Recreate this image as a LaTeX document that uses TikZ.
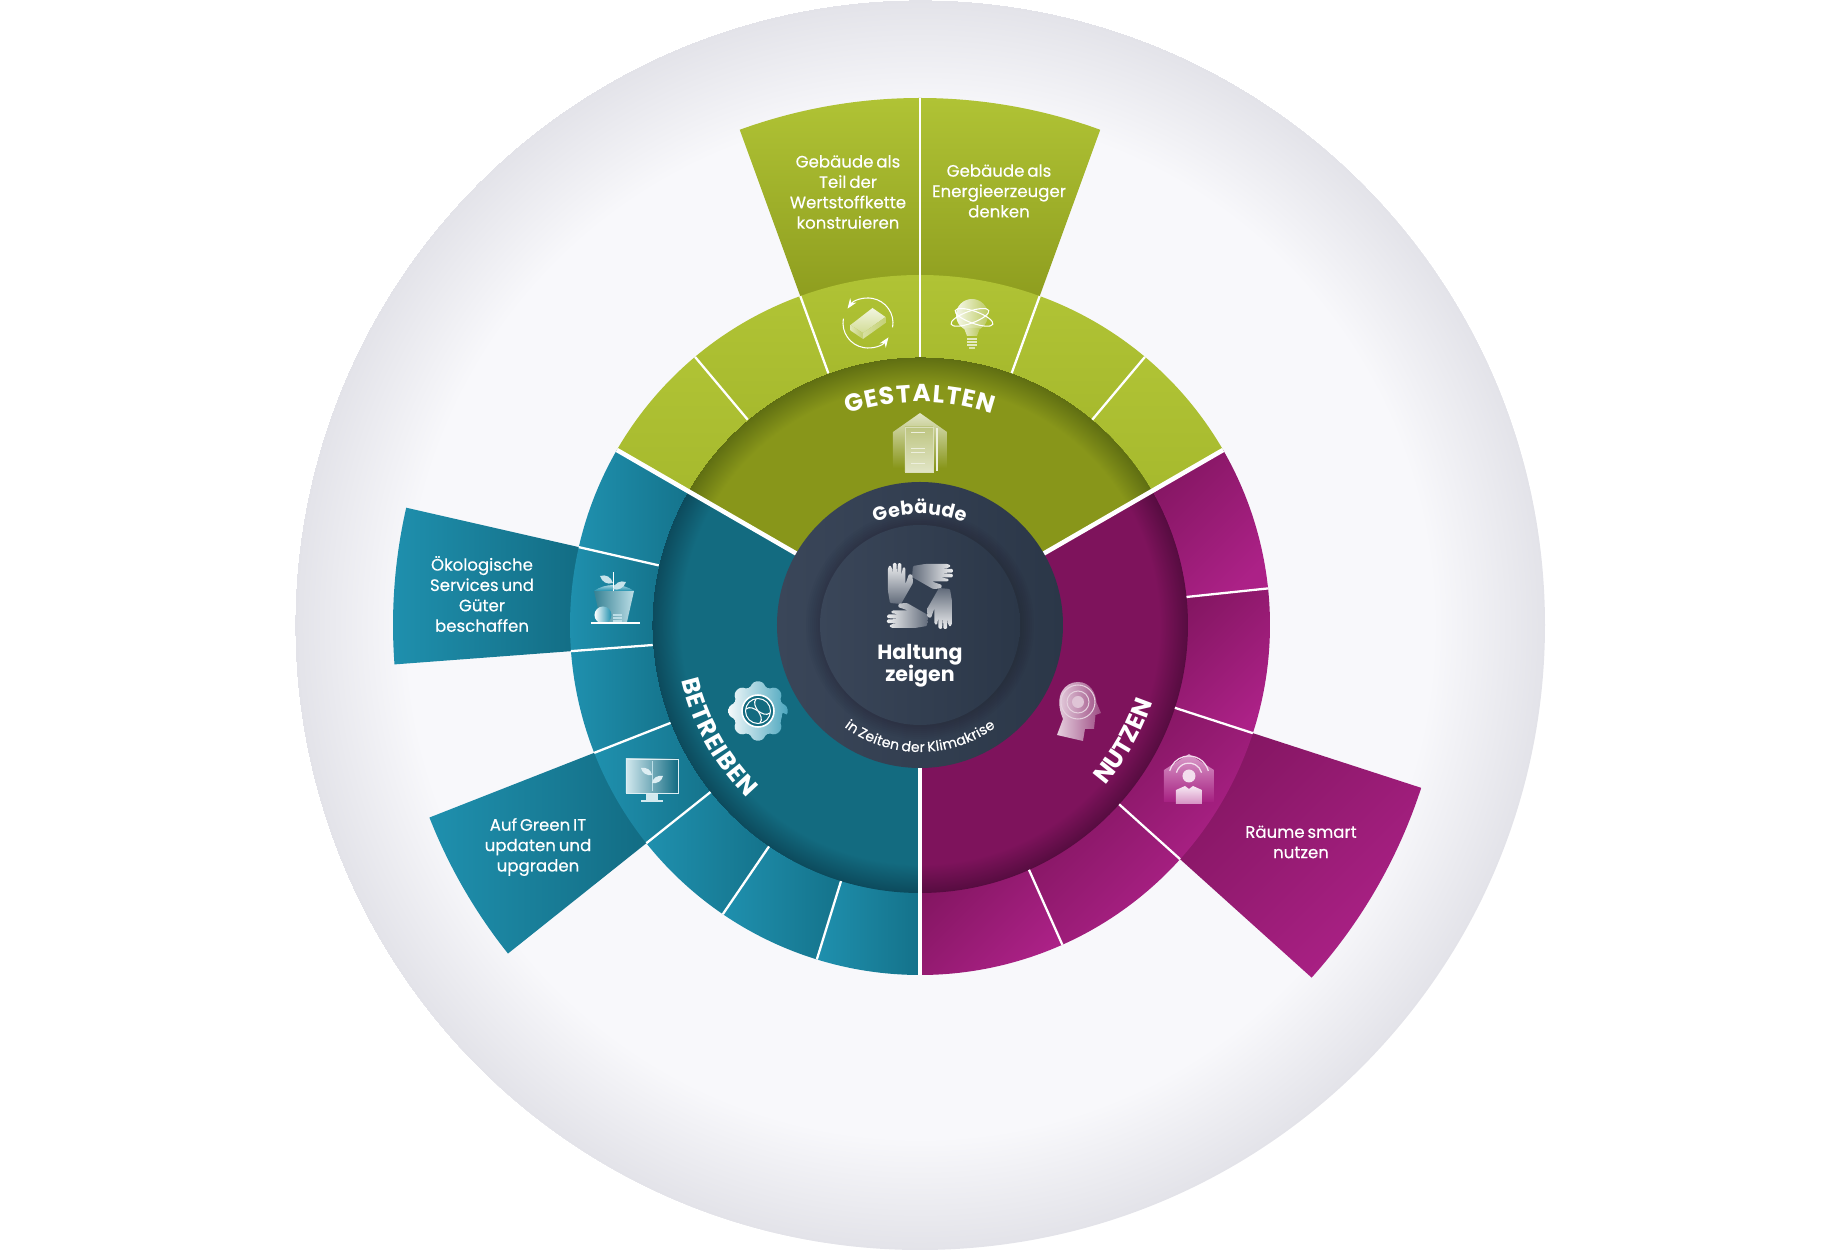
\documentclass[tikz,border=0pt]{standalone}
\usepackage{fontspec}
\setmainfont{Poppins}
\newfontfamily\bodyface{Poppins}[FakeBold=0.35, WordSpace=0.65]
\usepackage{xcolor}
\usetikzlibrary{arrows.meta,decorations.text}

\definecolor{greenlight}{HTML}{B0C335}
\definecolor{greenmid}{HTML}{A6B92D}
\definecolor{greendark}{HTML}{8D9C1E}
\definecolor{greendisc}{HTML}{88961A}
\definecolor{greenrim}{HTML}{5F6E12}
\definecolor{teallight}{HTML}{1F90AE}
\definecolor{tealseg}{HTML}{14728A}
\definecolor{tealdark}{HTML}{126B82}
\definecolor{tealdisc}{HTML}{136B80}
\definecolor{tealrim}{HTML}{0C4A5C}
\definecolor{purplelight}{HTML}{AC2187}
\definecolor{purpledark}{HTML}{841662}
\definecolor{purpledisc}{HTML}{7E135C}
\definecolor{purplerim}{HTML}{560C40}
\definecolor{slatelight}{HTML}{3A4659}
\definecolor{slatedark}{HTML}{2B3748}
\definecolor{haze}{HTML}{F8F8FB}
\definecolor{hazerim}{HTML}{E3E3E9}

\pgfdeclareradialshading{rimback}{\pgfpoint{0bp}{0bp}}{color(0bp)=(haze); color(20.5bp)=(haze); color(25bp)=(hazerim)}
\pgfdeclareradialshading{rimgreen}{\pgfpoint{0bp}{0bp}}{color(0bp)=(greendisc); color(22.3bp)=(greendisc); color(25bp)=(greenrim)}
\pgfdeclareradialshading{rimteal}{\pgfpoint{0bp}{0bp}}{color(0bp)=(tealdisc); color(22.3bp)=(tealdisc); color(25bp)=(tealrim)}
\pgfdeclareradialshading{rimpurple}{\pgfpoint{0bp}{0bp}}{color(0bp)=(purpledisc); color(22.3bp)=(purpledisc); color(25bp)=(purplerim)}

\newcommand{\ringseg}[4]{(#1:#3) arc (#1:#2:#3) -- (#2:#4) arc (#2:#1:#4) -- cycle}
\newcommand{\bodyfont}{\bodyface\fontsize{9.45}{11.6}\selectfont}
\newcommand{\ringfont}{\fontsize{14}{15}\selectfont\bfseries\color{white}}

\tikzset{
  greenext/.style={top color=greenlight, bottom color=greendark},
  greenseg/.style={top color=greenlight, bottom color=greenmid},
  tealext/.style={top color=teallight, bottom color=tealdark, shading angle=90},
  tealring/.style={top color=teallight, bottom color=tealseg, shading angle=90},
  purpleext/.style={top color=purpledark, bottom color=purplelight, shading angle=45},
  thinline/.style={white, line width=1.3pt},
  mainline/.style={white, line width=2.6pt},
  bodytext/.style={text=white, align=center, font=\bodyfont, inner sep=0pt},
  curvetext/.style={decorate, decoration={text along path, text align={fit to path}, text={#1}}},
  iconline/.style={white, line width=0.6pt}
}

\begin{document}
\begin{tikzpicture}[x=0.02cm, y=0.02cm, >=Stealth]
    \useasboundingbox (-920,-625) rectangle (920,625);
    \shade[shading=rimback] (0,0) circle (625);

    % long sectors
    \shade[greenext] \ringseg{70}{90}{340}{527};
    \shade[greenext] \ringseg{90}{110}{340}{527};
    \shade[tealext] \ringseg{167.14}{184.29}{340}{527};
    \shade[tealext] \ringseg{201.43}{218.57}{340}{527};
    \shade[purpleext] \ringseg{-42}{-18}{340}{527};

    % outer ring
    \foreach \a in {30,50,...,130} {
        \pgfmathsetmacro\b{\a+20}
        \shade[greenseg] \ringseg{\a}{\b}{260}{350};
    }
    \foreach \i in {0,...,6} {
        \pgfmathsetmacro\a{150+\i*120/7}
        \pgfmathsetmacro\b{\a+120/7}
        \shade[tealring] \ringseg{\a}{\b}{260}{350};
    }
    \foreach \i in {0,...,4} {
        \pgfmathsetmacro\a{-90+\i*24}
        \pgfmathsetmacro\b{\a+24}
        \shade[purpleext] \ringseg{\a}{\b}{260}{350};
    }

    % discs of the three fields
    \begin{scope}
        \clip (0,0) -- (30:268) arc (30:150:268) -- cycle;
        \shade[shading=rimgreen] (0,0) circle (268);
    \end{scope}
    \begin{scope}
        \clip (0,0) -- (150:268) arc (150:270:268) -- cycle;
        \shade[shading=rimteal] (0,0) circle (268);
    \end{scope}
    \begin{scope}
        \clip (0,0) -- (270:268) arc (270:390:268) -- cycle;
        \shade[shading=rimpurple] (0,0) circle (268);
    \end{scope}

    % dividers
    \foreach \a in {50,70,110,130} \draw[thinline] (\a:268) -- (\a:350);
    \draw[thinline] (90:268) -- (90:527);
    \foreach \i in {1,...,6} \draw[thinline] ({150+\i*120/7}:268) -- ({150+\i*120/7}:350);
    \foreach \a in {6,-18,-42,-66} \draw[thinline] (\a:268) -- (\a:350);
    \foreach \a in {30,150,270} \draw[mainline] (\a:130) -- (\a:350);

    % centre
    \shade[left color=slatelight, right color=slatedark] (0,0) circle (143);
    \foreach \r in {102,104,...,114} \fill[black, opacity=0.02] (0,0) circle (\r);
    \shade[left color=slatelight, right color=slatedark] (0,0) circle (100);

    % hands
    \begin{scope}[shift={(0,29)}]
        \foreach \a in {0,90,180,270} {
            \pgfmathsetmacro\sa{\a-90}
            \shade[top color=white!92!slatedark, bottom color=slatelight!80!white, shading angle=\sa, rotate=\a, rounded corners=0.6]
                (-8,19) -- (-7,30) -- (5,32) -- (28,32) -- (31,30) -- (28,28) -- (21,27.5) -- (33,27) -- (33,23.5) -- (21,23)
                -- (33,22) -- (32.5,18.5) -- (21,18.5) -- (29,17) -- (28,14.5) -- (12,14.5) -- (22,11) -- (21,7.5) -- (13,7) -- cycle;
        }
    \end{scope}

    % house with document
    \begin{scope}[shift={(0,181)}]
        \shade[top color=white!75!greendisc, bottom color=greendisc] (-27,12) -- (0,31) -- (27,12) -- (27,-24) -- (-27,-24) -- cycle;
        \shade[top color=white!45!greendisc, bottom color=white!75!greendisc, draw=white!70!greendisc, line width=0.4pt] (-15,17) rectangle (13,-28);
        \draw[white!85!greendisc, line width=0.6pt] (17,16) -- (17,-27);
        \foreach \y in {12,-4,-8,-19} \draw[white!85!greendisc, line width=0.3pt] (-9,\y) -- (5,\y);
    \end{scope}

    % brick with cycle arrows
    \begin{scope}[shift={(-52,302)}]
        \draw[iconline, ->] (-10:25) arc (-10:145:25);
        \draw[iconline, ->] (170:25) arc (170:325:25);
        \shade[top color=white!85!greenmid, bottom color=white!50!greenmid] (-17.5,-2) -- (4.5,15) -- (17.5,6) -- (-5,-10) -- cycle;
        \shade[left color=white!65!greenmid, right color=white!30!greenmid] (-17.5,-2) -- (-5,-10) -- (-5,-16) -- (-17.5,-7.5) -- cycle;
        \shade[left color=white!55!greenmid, right color=white!35!greenmid] (-5,-10) -- (17.5,6) -- (17.5,0) -- (-5,-16) -- cycle;
    \end{scope}

    % bulb
    \begin{scope}[shift={(52,302)}]
        \shade[left color=white!90!greenmid, right color=white!25!greenmid] (0,8) circle (16);
        \shade[left color=white!70!greenmid, right color=white!25!greenmid] (-8,-5) -- (8,-5) -- (5,-13) -- (-5,-13) -- cycle;
        \foreach \y in {-15,-18,-21} \fill[white!70!greenmid] (-5,\y) rectangle (5,\y-2);
        \fill[white!60!greenmid] (-3,-24) rectangle (3,-26);
        \draw[iconline, rotate=20] (0,6) ellipse (20 and 6);
        \draw[iconline, rotate=-20] (0,6) ellipse (20 and 6);
    \end{scope}

    % plant pot
    \begin{scope}[shift={(-307,0)}]
        \shade[left color=tealdisc!85!white, right color=white!70!teallight] (-19,34) -- (21,34) -- (14,3) -- (-12,3) -- cycle;
        \shade[top color=white!80!teallight, bottom color=teallight] (-19,34) .. controls (-8,42) and (10,42) .. (21,34) -- cycle;
        \draw[iconline, line width=0.4pt] (0,34) -- (0,53);
        \fill[white!75!teallight] (0,42) .. controls (-6,40) and (-11,43) .. (-13,49) .. controls (-7,51) and (-2,48) .. (0,42);
        \fill[white!75!teallight] (0,36) .. controls (5,34) and (11,37) .. (13,43) .. controls (7,45) and (2,42) .. (0,36);
        \shade[left color=white, right color=teallight] (-10,10) circle (8.5);
        \foreach \y in {3,6,9} \fill[white!70!teallight] (0,\y) rectangle (9,\y+2);
        \draw[iconline] (-22,2) -- (27,2);
    \end{scope}

    % gear with globe
    \begin{scope}[shift={(-162,-86)}]
        \shade[left color=white!95!teallight, right color=teallight!80!white, rounded corners=2]
            (0:24) \foreach \a in {0,45,...,315} { -- (\a-10:30) -- (\a+10:30) -- (\a+15:25) -- (\a+30:25) } -- cycle;
        \fill[tealdisc] (0,0) circle (16);
        \draw[iconline, line width=0.9pt] (0,0) circle (16);
        \draw[iconline] (0,0) circle (12.5);
        \draw[iconline] (-12,2) .. controls (-4,8) and (4,-8) .. (12,-2);
        \draw[iconline] (-2,12) .. controls (-8,4) and (8,-4) .. (2,-12);
    \end{scope}

    % monitor
    \begin{scope}[shift={(-268,-154)}]
        \shade[left color=white!80!teallight, right color=tealdark, draw=white!85!teallight, line width=0.5pt] (-26,20) rectangle (26,-14);
        \fill[white!80!teallight] (-6,-21) rectangle (6,-15);
        \fill[white!80!teallight] (-11,-21) rectangle (11,-23);
        \draw[white!70!teallight, line width=0.4pt] (0,18) -- (0,-12);
        \fill[white!85!teallight] (0,4) .. controls (-5,3) and (-10,6) .. (-11,11) .. controls (-5,12) and (-1,9) .. (0,4);
        \fill[white!85!teallight] (0,-4) .. controls (5,-5) and (10,-2) .. (11,3) .. controls (5,4) and (1,1) .. (0,-4);
    \end{scope}

    % head
    \shade[left color=white!85!purpledisc, right color=white!25!purpledisc]
        (137,-110) -- (143,-94) .. controls (133,-70) and (145,-57) .. (158,-57)
        .. controls (170,-57) and (176,-68) .. (176.5,-77.5) -- (181,-88) -- (175.5,-90) -- (174,-104) -- (165,-104) -- (163,-116) -- cycle;
    \fill[white!75!purpledisc] (158,-77) circle (6);
    \foreach \r in {11,17} \draw[white!80!purpledisc, line width=0.6pt] (158,-77) circle (\r);

    % person
    \begin{scope}[shift={(269,-151)}]
        \shade[top color=white!55!purplelight, bottom color=purplelight!85!purpledark] (-25,6) -- (0,22) -- (25,6) -- (25,-26) -- (-25,-26) -- cycle;
        \foreach \r in {13,20} \draw[white!85!purplelight, line width=0.7pt] (15:\r) arc (15:165:\r);
        \fill[white!85!purplelight] (0,0) circle (6.5);
        \shade[top color=white!90!purplelight, bottom color=white!50!purplelight] (-13,-28) -- (-13,-14) -- (-4,-10) -- (0,-13) -- (4,-10) -- (13,-14) -- (13,-28) -- cycle;
    \end{scope}

    % texts
    \node[bodytext] (wert) at (-72,433) {Gebäude als\\Teil der\\Wertstoffkette\\konstruieren};
    \node[bodytext] (energie) at (79,434) {Gebäude als\\Energieerzeuger\\denken};
    \node[bodytext] (oeko) at (-438,31) {Ökologische\\Services und\\Güter\\beschaffen};
    \node[bodytext] (green) at (-382,-222) {Auf Green IT\\updaten und\\upgraden};
    \node[bodytext] (raeume) at (381,-217) {Räume smart\\nutzen};
    \node[text=white, align=center, inner sep=0pt, font=\fontsize{11.7}{12.6}\selectfont\bfseries] (haltung) at (0,-41) {Haltung\\zeigen};

    \path[curvetext={|\ringfont|GESTALTEN}] (109:223) arc (109:71:223);
    \path[curvetext={|\ringfont|BETREIBEN}] (193:245) arc (193:225:245);
    \path[curvetext={|\ringfont|NUTZEN}] (-41:245) arc (-41:-18.5:245);
    \path[curvetext={|\fontsize{10.9}{12}\selectfont\bfseries\color{white}|Gebäude}] (113.5:111) arc (113.5:66.5:111);
    \path[curvetext={|\bodyface\fontsize{8}{9}\selectfont\color{white}|in Zeiten der Klimakrise}] (233.4:127) arc (233.4:306.6:127);
\end{tikzpicture}
\end{document}
